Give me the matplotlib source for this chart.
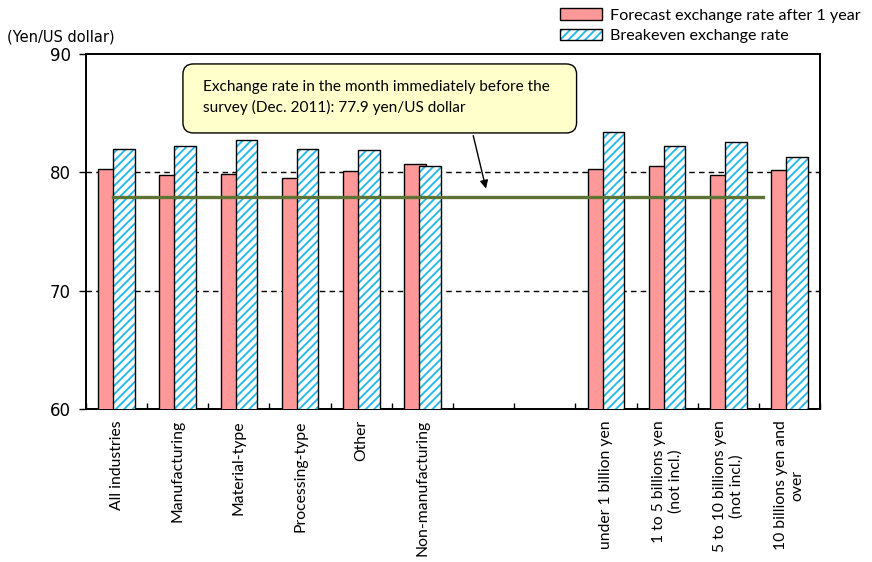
import matplotlib
matplotlib.use('Agg')
import matplotlib.pyplot as plt
from matplotlib.patches import FancyBboxPatch, Patch
import numpy as np

# Categories (two blank slots separate industry from capital size groups)
categories = ["All industries", "Manufacturing", "Material-type", "Processing-type",
              "Other", "Non-manufacturing", "", "",
              "under 1 billion yen", "1 to 5 billions yen\n(not incl.)",
              "5 to 10 billions yen\n(not incl.)", "10 billions yen and\nover"]
forecast = [80.3, 79.8, 79.9, 79.5, 80.1, 80.7, np.nan, np.nan, 80.3, 80.5, 79.8, 80.2]
breakeven = [82.0, 82.2, 82.7, 82.0, 81.9, 80.5, np.nan, np.nan, 83.4, 82.2, 82.6, 81.3]
spot_rate = 77.9

PINK = '#ff9999'
BLUE = '#22b8ec'
HATCH = '////'
TEXT_FONT = ['Lato', 'DejaVu Sans']

plt.rcParams['hatch.linewidth'] = 1.35

fig = plt.figure(figsize=(8.72, 5.62), dpi=100)
ax = fig.add_axes([0.0986, 0.2722, 0.8418, 0.6317])

x = np.arange(len(categories))
w = 0.353
shift = 0.1225

ax.bar(x - shift, forecast, w, color=PINK, edgecolor='black', linewidth=1.0, zorder=3)
# hatched fill first, then a plain black outline on top
ax.bar(x + shift, breakeven, w, color='white', edgecolor=BLUE, hatch=HATCH,
       linewidth=0, zorder=4)
ax.bar(x + shift, breakeven, w, color='none', edgecolor='black', linewidth=1.0, zorder=5)

# exchange rate of the month before the survey
ax.plot([-0.06, 10.56], [spot_rate, spot_rate], color='#5e7434', linewidth=2.4, zorder=6)

ax.set_xlim(-0.5, 11.5)
ax.set_ylim(60, 90)
ax.set_yticks([60, 70, 80, 90])
ax.tick_params(axis='y', direction='out', length=5, width=1, labelsize=12, pad=6)
ax.set_xticks(x)
ax.set_xticklabels(categories, rotation=90, va='top', ha='center', multialignment='center',
                   family=TEXT_FONT, fontsize=11.3)
ax.tick_params(axis='x', length=0, pad=8)
ax.set_xticks(np.arange(-0.5, 12, 1), minor=True)
ax.tick_params(axis='x', which='minor', direction='in', length=4, width=1)

for yv in (70, 80):
    ax.axhline(yv, color='black', linestyle=(0, (4, 3)), linewidth=1, zorder=1)

for s in ax.spines.values():
    s.set_linewidth(1.4)

fig.text(0.008, 0.935, "(Yen/US dollar)", fontsize=10.5, ha='left', va='center')

# callout box with arrow to the reference line
box = FancyBboxPatch((1.085, 83.33), 6.435, 5.83,
                     boxstyle='round,pad=0,rounding_size=0.17', mutation_aspect=5.17,
                     facecolor='#ffffcc', edgecolor='black', linewidth=1.0, zorder=7)
ax.add_patch(box)
ax.text(1.41, 86.3, "Exchange rate in the month immediately before the\n"
        "survey (Dec. 2011): 77.9 yen/US dollar",
        ha='left', va='center', family=TEXT_FONT, fontsize=11.1, linespacing=1.5, zorder=8)
ax.annotate('', xy=(6.05, 78.4), xytext=(5.82, 83.33),
            arrowprops=dict(arrowstyle='-|>', color='black', lw=1.0, mutation_scale=12),
            zorder=8)

pink_handle = Patch(facecolor=PINK, edgecolor='black', linewidth=1.0)
blue_handle = (Patch(facecolor='white', edgecolor=BLUE, hatch=HATCH, linewidth=0),
               Patch(facecolor='none', edgecolor='black', linewidth=1.0))
leg = fig.legend([pink_handle, blue_handle],
                 ["Forecast exchange rate after 1 year", "Breakeven exchange rate"],
                 loc='upper right', bbox_to_anchor=(1.0, 1.005), frameon=False,
                 prop={'family': TEXT_FONT, 'size': 11.6}, handlelength=2.6,
                 handleheight=0.7, handletextpad=0.5, labelspacing=0.4, borderaxespad=0.3)

fig.savefig('out.png', dpi=100)
